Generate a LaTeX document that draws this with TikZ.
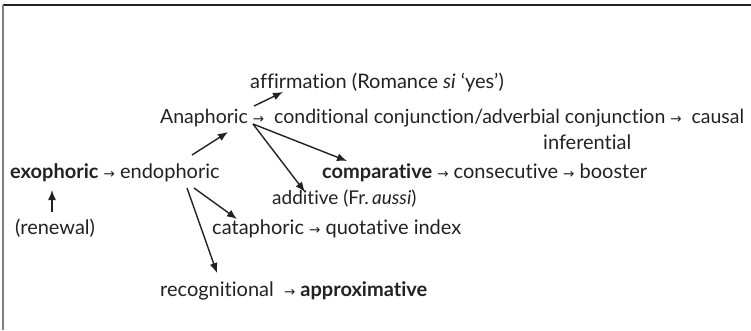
\documentclass[tikz,border=0pt]{standalone}
\usepackage{fontspec}
\setmainfont{Lato}[Ligatures={NoCommon,NoRare}]
\newfontfamily\arrfont{DejaVu Sans}
\usetikzlibrary{arrows.meta}
\newcommand{\rarr}{{\arrfont\fontsize{13.5}{13.5}\selectfont →}}
\definecolor{ink}{HTML}{222222}
\tikzset{
  txt/.style={anchor=base west, inner sep=0pt, text=ink, font=\fontsize{20}{22}\selectfont},
  arr/.style={draw=ink, line width=1.4pt, -{Latex[length=10pt,width=8pt]}},
}
\begin{document}
\begin{tikzpicture}[x=1pt,y=-1pt]
\useasboundingbox (0,0) rectangle (751,330);
\fill[white] (0,0) rectangle (751,330);
\draw[ink, line width=1.5pt] (3,5) -- (751,5);
\draw[gray, line width=2pt] (3,5) -- (3,330);
\node[txt] (aff) at (250,88) {affirmation (Romance \textit{si} ‘yes’)};
\node[txt, font=\fontsize{19.5}{22}\selectfont] (ana) at (160,123) {Anaphoric \rarr\ \ conditional conjunction/adverbial conjunction \rarr\ \ causal};
\node[txt] (inf) at (543,149) {inferential};
\node[txt] (exo) at (10,178) {\textbf{exophoric} \rarr\ endophoric};
\node[txt] (comp) at (322,178) {\textbf{comparative} \rarr\ consecutive \rarr\ booster};
\node[txt, font=\fontsize{19}{22}\selectfont] (add) at (272,204) {additive (Fr.\,\textit{aussi})};
\node[txt] (ren) at (15,234) {(renewal)};
\node[txt] (cata) at (212,234) {cataphoric \rarr\ quotative index};
\node[txt] (rec) at (160,296) {recognitional \ \rarr\ \textbf{approximative}};
\draw[arr] ([shift={(94,-17)}]ana.base west) -- ([shift={(33,4)}]aff.base west);
\draw[arr] ([shift={(182,-23)}]exo.base west) -- ([shift={(68,9)}]ana.base west);
\draw[arr] ([shift={(93,1)}]ana.base west) -- ([shift={(25,-17)}]comp.base west);
\draw[arr] ([shift={(93,1)}]ana.base west) -- ([shift={(33,-12)}]add.base west);
\draw[arr] ([shift={(37,-22)}]ren.base west) -- ([shift={(42,12)}]exo.base west);
\draw[arr] ([shift={(184,10)}]exo.base west) -- ([shift={(25,-15)}]cata.base west);
\draw[arr] ([shift={(177,10)}]exo.base west) -- ([shift={(57,-23)}]rec.base west);
\end{tikzpicture}
\end{document}
